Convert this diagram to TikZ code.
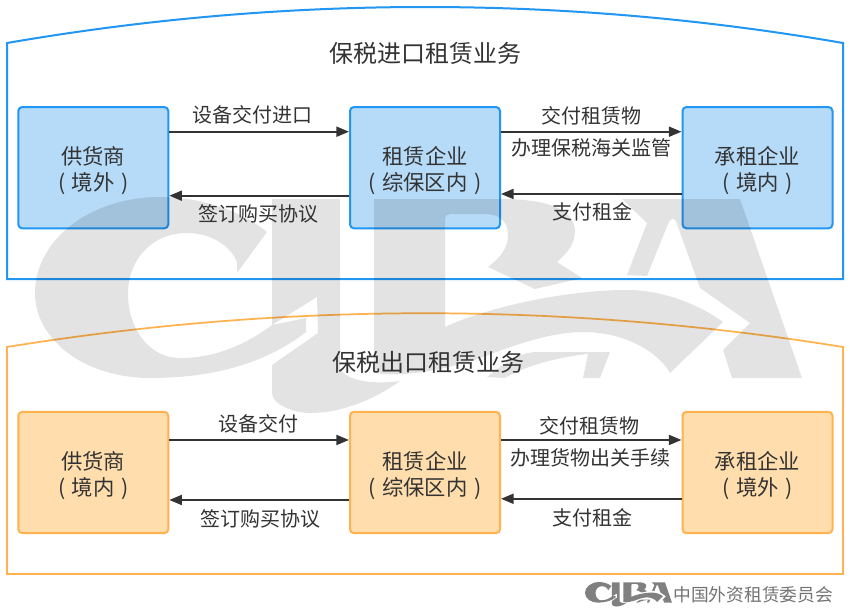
\documentclass[tikz,border=0pt]{standalone}
\usepackage{fontspec}
\setmainfont{Noto Sans CJK SC}
\usetikzlibrary{arrows.meta}
\definecolor{ink}{HTML}{333333}
\definecolor{bluefill}{HTML}{B6DBF8}
\definecolor{blueline}{HTML}{2196F3}
\definecolor{orfill}{HTML}{FFDDAD}
\definecolor{orline}{HTML}{FFB24D}
\newcommand\cibalogo{
(267,232) -- (237,273) -- (237,262) .. controls (230,245) and (210,233) .. (187,233) .. controls (150,233) and (128,262) .. (128,293) .. controls (128,330) and (150,358) .. (180,358) .. controls (215,358) and (245,345) .. (272,325) -- (306,318) -- (306,332) .. controls (270,360) and (220,378) .. (150,378) .. controls (85,378) and (35,340) .. (35,293) .. controls (35,240) and (90,197) .. (160,197) .. controls (200,197) and (240,210) .. (267,232) -- cycle
(272,199) -- (340,199) -- (340,368) .. controls (345,380) and (370,385) .. (400,381) .. controls (385,392) and (350,413) .. (310,413) .. controls (295,413) and (272,405) .. (272,393) -- (272,365) -- (318,333) -- (317,297) -- (272,325) -- cycle
(374,199) -- (500,199) .. controls (550,199) and (575,210) .. (575,232) .. controls (575,245) and (565,255) .. (557,262) -- (582,278) -- (535,289) -- (488,267) .. controls (500,258) and (508,248) .. (508,235) .. controls (508,222) and (500,214) .. (485,214) -- (450,214) .. controls (447,214) and (445,216) .. (445,220) -- (445,327) .. controls (480,310) and (560,290) .. (627,290) .. controls (660,290) and (695,302) .. (723,322) -- (670,373) .. controls (660,355) and (630,333) .. (585,332) .. controls (550,332) and (515,345) .. (483,357) .. controls (450,368) and (410,378) .. (374,373) -- cycle
(487,377) .. controls (505,362) and (520,353) .. (535,352) -- (610,352) -- (600,378) -- (583,378) -- (588,354) .. controls (570,356) and (560,358) .. (545,362) .. controls (530,366) and (515,372) .. (505,378) -- cycle
(622,199) -- (740,199) -- (802,378) -- (732,378) -- (723,350) -- (750,323) -- (700,288) -- (677,224) .. controls (675,217) and (671,217) .. (668,224) -- (647,276) -- (627,275) -- (647,223) -- cycle
}
\tikzset{
  x=.75pt,y=-.75pt,
  every node/.style={text=ink,inner sep=0pt,outer sep=0pt},
  frameb/.style={draw=blueline,line width=1.5pt},
  frameo/.style={draw=orline,line width=1.3pt},
  boxb/.style={draw=blueline,fill=bluefill,line width=1.5pt,rounded corners=3pt,minimum width=112.5pt,minimum height=91pt,outer sep=.75pt,align=center,font=\fontsize{16}{19.5}\selectfont},
  boxo/.style={boxb,draw=orline,fill=orfill},
  boxtext/.style={align=center,font=\fontsize{16}{19.5}\selectfont,yshift=-2.2pt},
  lab/.style={font=\fontsize{15}{18}\selectfont},
  ttl/.style={font=\fontsize{18}{22}\selectfont},
  arr/.style={draw=ink,line width=1.5pt,-{Triangle[length=9.5pt,width=7.5pt]}},
}
\newcommand\pp[1]{(\hspace{5pt}#1\hspace{5pt})}
\begin{document}
\begin{tikzpicture}
\useasboundingbox (0,0) rectangle (850,615);
\fill[white] (0,0) rectangle (850,615);
% frames
\draw[frameb] (7,43) .. controls (285,-5) and (565,-5) .. (843,43) -- (843,279) -- (7,279) -- cycle;
\draw[frameo] (7,347) .. controls (285,302) and (565,302) .. (843,347) -- (843,574) -- (7,574) -- cycle;
% boxes
\node[boxb] (a1) at (93.3,167.7) {};
\node[boxb] (b1) at (425,167.7) {};
\node[boxb] (c1) at (757.5,167.7) {};
\node[boxo] (a2) at (93.3,472.5) {};
\node[boxo] (b2) at (425,472.5) {};
\node[boxo] (c2) at (757.5,472.5) {};
% watermark
\fill[black,fill opacity=.11] \cibalogo;
% box texts
\node[boxtext] (ta1) at (a1) {供货商\\\pp{境外}};
\node[boxtext] (tb1) at (b1) {租赁企业\\\pp{综保区内}};
\node[boxtext] (tc1) at (c1) {承租企业\\\pp{境内}};
\node[boxtext] (ta2) at (a2) {供货商\\\pp{境内}};
\node[boxtext] (tb2) at (b2) {租赁企业\\\pp{综保区内}};
\node[boxtext] (tc2) at (c2) {承租企业\\\pp{境外}};
% arrows
\draw[arr] ([yshift=27pt]a1.east) -- ([yshift=27pt]b1.west);
\draw[arr] ([yshift=-21pt]b1.west) -- ([yshift=-21pt]a1.east);
\draw[arr] ([yshift=27pt]b1.east) -- ([yshift=27pt]c1.west);
\draw[arr] ([yshift=-19.7pt]c1.west) -- ([yshift=-19.7pt]b1.east);
\draw[arr] ([yshift=24.4pt]a2.east) -- ([yshift=24.4pt]b2.west);
\draw[arr] ([yshift=-20.6pt]b2.west) -- ([yshift=-20.6pt]a2.east);
\draw[arr] ([yshift=24.4pt]b2.east) -- ([yshift=24.4pt]c2.west);
\draw[arr] ([yshift=-19.7pt]c2.west) -- ([yshift=-19.7pt]b2.east);
% labels
\node[ttl] (t1) at (425,53) {保税进口租赁业务};
\node[ttl] (t2) at (428,362) {保税出口租赁业务};
\node[lab] (l1) at (252,115) {设备交付进口};
\node[lab] (l2) at (258,214) {签订购买协议};
\node[lab] (l3) at (591,116) {交付租赁物};
\node[lab] (l4) at (591,148) {办理保税海关监管};
\node[lab] (l5) at (592,212) {支付租金};
\node[lab] (l6) at (258,424) {设备交付};
\node[lab] (l7) at (260,519) {签订购买协议};
\node[lab] (l8) at (589,426) {交付租赁物};
\node[lab] (l9) at (590,458) {办理货物出关手续};
\node[lab] (l10) at (592,518) {支付租金};
% footer
\begin{scope}[shift={(581,559.7)},scale=.1134]
\fill[black!50] \cibalogo;
\end{scope}
\node[anchor=east,font=\fontsize{13.3}{16}\selectfont,text=black!55] (ft) at (833,595) {中国外资租赁委员会};
\end{tikzpicture}
\end{document}
